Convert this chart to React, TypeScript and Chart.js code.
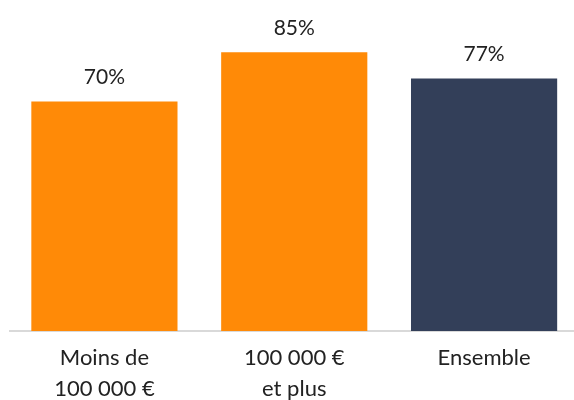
import React, { useEffect, useRef } from "react";
import { Chart, registerables } from "chart.js";

Chart.register(...registerables);

const categories: string[][] = [["Moins de", "100 000 €"], ["100 000 €", "et plus"], ["Ensemble"]];
const values: number[] = [70, 85, 77];
const barColors: string[] = ["#FF8A07", "#FF8A07", "#333F59"];

const FONT = "Lato, 'Open Sans', sans-serif";

const valueLabels = {
  id: "valueLabels",
  afterDatasetsDraw(chart: any) {
    const ctx = chart.ctx;
    const meta = chart.getDatasetMeta(0);
    ctx.save();
    ctx.font = `21px ${FONT}`;
    ctx.fillStyle = "#222222";
    ctx.textAlign = "center";
    ctx.textBaseline = "alphabetic";
    meta.data.forEach((bar: any, i: number) => {
      ctx.fillText(`${values[i]}%`, bar.x, bar.y - 17);
    });
    ctx.restore();
  },
};

export default function App() {
  const ref = useRef<HTMLCanvasElement>(null);
  useEffect(() => {
    if (!ref.current) return;
    const chart = new Chart(ref.current, {
      type: "bar",
      data: {
        labels: categories,
        datasets: [
          {
            data: values,
            backgroundColor: barColors,
            borderWidth: 0,
            barPercentage: 0.77,
            categoryPercentage: 1,
          },
        ],
      },
      options: {
        responsive: false,
        animation: false,
        devicePixelRatio: 1,
        layout: { padding: { left: 9.5, right: 0, top: 3, bottom: 0 } },
        plugins: { legend: { display: false }, tooltip: { enabled: false } },
        scales: {
          x: {
            grid: { display: false },
            border: { display: true, color: "#D9D9D9", width: 2 },
            ticks: {
              color: "#222222",
              font: { family: FONT, size: 22, lineHeight: 1.38 },
              padding: 4,
              maxRotation: 0,
              autoSkip: false,
            },
            afterFit(scale: any) {
              scale.height = 69;
            },
          },
          y: { display: false, min: 0, max: 100 },
        },
      },
      plugins: [valueLabels],
    });
    return () => chart.destroy();
  }, []);
  return (
    <div style={{ position: "absolute", left: 0, top: 0, width: 574, height: 400, overflow: "hidden", background: "#fff" }}>
      <canvas ref={ref} width={579} height={400} style={{ display: "block" }} />
    </div>
  );
}
